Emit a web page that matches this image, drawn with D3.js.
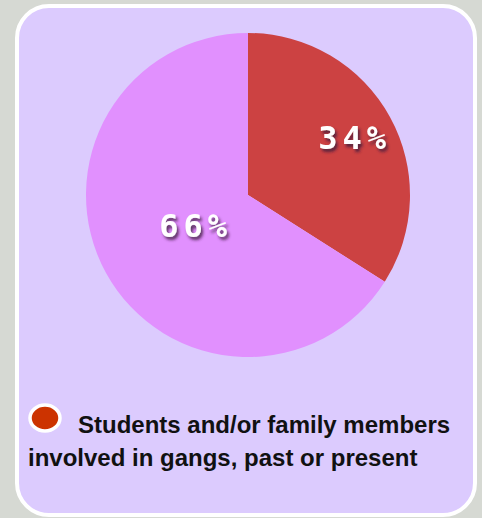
<!DOCTYPE html>
<html>
<head>
<meta charset="utf-8">
<script src="https://cdn.jsdelivr.net/npm/d3@7"></script>
<style>
  body { margin: 0; background: #d6d9d3; }
  svg { display: block; }
</style>
</head>
<body>
<svg id="chart"></svg>
<script>
// Chart data
const categories = ["Students and/or family members involved in gangs, past or present", "Other"];
const values = [34, 66];
const colors = ["#cc4242", "#e190fe"];
const legendLines = ["Students and/or family members", "involved in gangs, past or present"];

const width = 482, height = 518;
const cx = 248, cy = 195, radius = 162;
// Label distance from centre, as a share of the radius, per slice
const labelRadius = [0.73, 0.39];

const svg = d3.select("#chart").attr("width", width).attr("height", height);

// Drop shadow for the labels
const defs = svg.append("defs");
const f = defs.append("filter").attr("id", "shadow")
  .attr("x", "-20%").attr("y", "-20%").attr("width", "150%").attr("height", "170%");
f.append("feDropShadow").attr("dx", 2).attr("dy", 3).attr("stdDeviation", 1.8)
  .attr("flood-color", "#3a1a3a").attr("flood-opacity", 0.8);

// Panel
svg.append("rect")
  .attr("x", 17).attr("y", 6)
  .attr("width", 458).attr("height", 509)
  .attr("rx", 32).attr("ry", 32)
  .attr("fill", "#dccbfe")
  .attr("stroke", "#ffffff")
  .attr("stroke-width", 4);

// Pie
const pie = d3.pie().sort(null).value(d => d);
const arc = d3.arc().innerRadius(0).outerRadius(radius);

const g = svg.append("g").attr("transform", "translate(" + cx + "," + cy + ")");
const arcs = pie(values);

g.selectAll("path")
  .data(arcs)
  .enter()
  .append("path")
  .attr("d", arc)
  .attr("fill", (d, i) => colors[i]);

g.selectAll("text")
  .data(arcs)
  .enter()
  .append("text")
  .attr("transform", (d, i) => {
    const r = radius * labelRadius[i];
    const c = d3.arc().innerRadius(r).outerRadius(r).centroid(d);
    return "translate(" + (c[0] + 3) + "," + c[1] + ")";
  })
  .attr("text-anchor", "middle")
  .attr("dy", "0.35em")
  .attr("font-family", "'DejaVu Sans Mono', monospace")
  .attr("font-weight", "bold")
  .attr("font-size", 32)
  .attr("letter-spacing", 5)
  .attr("fill", "#ffffff")
  .attr("filter", "url(#shadow)")
  .text(d => d.data + "%");

// Legend
svg.append("ellipse")
  .attr("cx", 45).attr("cy", 418)
  .attr("rx", 15).attr("ry", 13)
  .attr("fill", "#cc3300")
  .attr("stroke", "#ffffff")
  .attr("stroke-width", 3.5);

const legendText = svg.append("text")
  .attr("font-family", "'Liberation Sans', Arial, sans-serif")
  .attr("font-weight", "bold")
  .attr("font-size", 24)
  .attr("fill", "#111111");

legendText.append("tspan").attr("x", 78).attr("y", 433).text(legendLines[0]);
legendText.append("tspan").attr("x", 28).attr("y", 466).text(legendLines[1]);
</script>
</body>
</html>
